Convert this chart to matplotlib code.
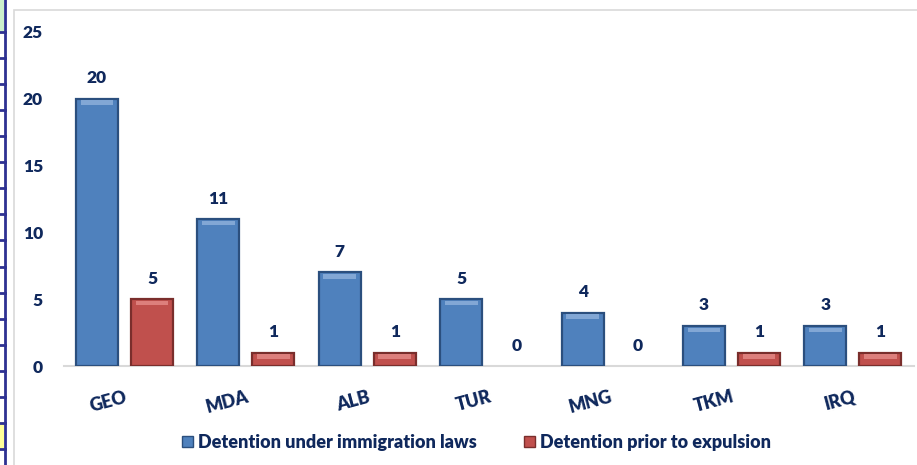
import matplotlib.pyplot as plt
import numpy as np
from matplotlib.patches import Rectangle
from matplotlib.lines import Line2D

# data
countries = ["GEO", "MDA", "ALB", "TUR", "MNG", "TKM", "IRQ"]
immigration = [20, 11, 7, 5, 4, 3, 3]
expulsion = [5, 1, 1, 0, 0, 1, 1]
series_names = ["Detention under immigration laws", "Detention prior to expulsion"]

navy = "#0f285c"
blue = "#4f81bd"
blue_edge = "#2b4f7e"
red = "#c0504d"
red_edge = "#7a2e2c"
wt = "heavy"

plt.rcParams["font.family"] = ["Lato", "DejaVu Sans"]
plt.rcParams["font.weight"] = wt

fig = plt.figure(figsize=(9.17, 4.65), dpi=100)
ax = fig.add_axes([0.0696, 0.2129, 0.9268, 0.7183])

x = np.arange(len(countries))
w = 0.346
off = 0.2265

b1 = ax.bar(x - off, immigration, w, color=blue, edgecolor=blue_edge, linewidth=1.6, zorder=3)
b2 = ax.bar(x + off, expulsion, w, color=red, edgecolor=red_edge, linewidth=1.6, zorder=3)

# light bevel highlight along bar tops, no outline on empty bars
for bars, hl in ((b1, "#8fb1dc"), (b2, "#e58c89")):
    for r in bars:
        h = r.get_height()
        if h <= 0:
            r.set_linewidth(0)
            continue
        ax.bar(r.get_x() + r.get_width() / 2, min(0.35, h * 0.4), r.get_width() * 0.78,
               bottom=h - min(0.35, h * 0.4) - 0.12, color=hl, linewidth=0, zorder=4, alpha=0.8)

for bars, vals in ((b1, immigration), (b2, expulsion)):
    for r, v in zip(bars, vals):
        ax.annotate(str(v), (r.get_x() + r.get_width() / 2, v), xytext=(0, 9),
                    textcoords="offset points", ha="center", va="bottom",
                    fontsize=12.5, fontweight=wt, color=navy)

ax.set_xlim(-0.5, len(countries) - 0.5)
ax.set_ylim(0, 25)
ax.set_yticks([0, 5, 10, 15, 20, 25])
ax.set_xticks(x)
ax.set_xticklabels(countries, rotation=15, ha="right", va="top", rotation_mode="anchor")
ax.tick_params(axis="both", length=0, labelsize=12.5, labelcolor=navy)
ax.tick_params(axis="y", pad=15)
ax.tick_params(axis="x", pad=16, labelsize=13)
for lab in ax.get_xticklabels() + ax.get_yticklabels():
    lab.set_fontweight(wt)
for lab in ax.get_xticklabels():
    lab.set_x(lab.get_position()[0])

for s in ("top", "right", "left"):
    ax.spines[s].set_visible(False)
ax.spines["bottom"].set_color("#d9d9d9")
ax.spines["bottom"].set_linewidth(1.5)

handles = [Rectangle((0, 0), 1, 1, facecolor=blue, edgecolor=blue_edge),
           Rectangle((0, 0), 1, 1, facecolor=red, edgecolor=red_edge)]
leg = fig.legend(handles, series_names, loc="center", bbox_to_anchor=(0.52, 0.049), ncol=2,
                 frameon=False, handlelength=0.6, handleheight=0.6, handletextpad=0.3,
                 columnspacing=2.6, prop={"size": 13, "weight": wt})
for t in leg.get_texts():
    t.set_color(navy)

# chart border and spreadsheet strip on the left
fig.add_artist(Rectangle((14 / 917, -0.1), 2, 1 - 10 / 465 + 0.1, transform=fig.transFigure,
                         fill=False, edgecolor="#d9d9d9", linewidth=1.2))
fig.add_artist(Rectangle((0, 1 - 32 / 465), 4 / 917, 32 / 465, transform=fig.transFigure,
                         facecolor="#ccf0cc", edgecolor="none"))
fig.add_artist(Rectangle((0, 1 - 449 / 465), 4 / 917, 27 / 465, transform=fig.transFigure,
                         facecolor="#ffff99", edgecolor="none"))
fig.add_artist(Line2D([4.5 / 917, 4.5 / 917], [0, 1], transform=fig.transFigure,
                      color="#2e3192", linewidth=2))
for k in range(17):
    yy = 1 - (32 + 26.06 * k) / 465
    fig.add_artist(Line2D([0, 4.5 / 917], [yy, yy], transform=fig.transFigure,
                          color="#2e3192", linewidth=2))

fig.savefig("out.png", dpi=100)
